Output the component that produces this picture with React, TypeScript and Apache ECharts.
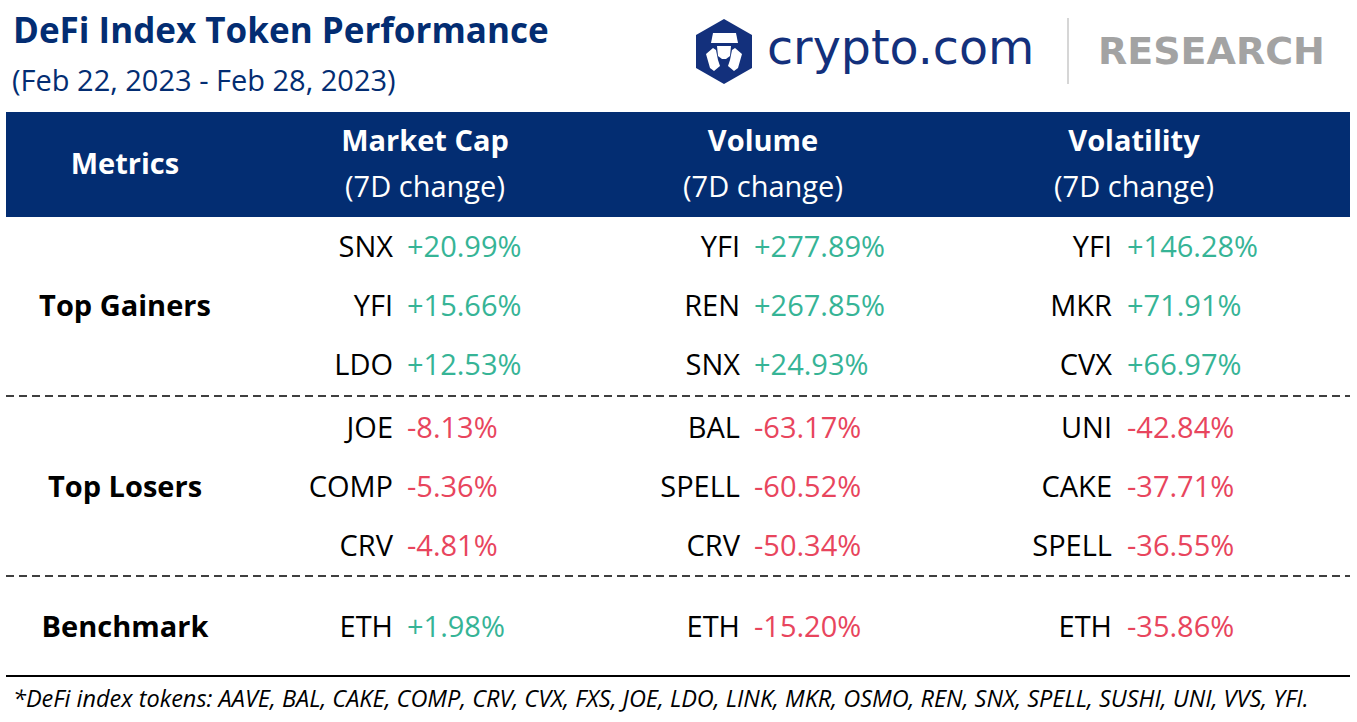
import React, { useEffect, useRef } from "react";
import * as echarts from "echarts";

const titleText = "DeFi Index Token Performance";
const subtitleText = "(Feb 22, 2023 - Feb 28, 2023)";
const metrics = ["Market Cap", "Volume", "Volatility"];
const metricSub = "(7D change)";
const rowGroups = ["Top Gainers", "Top Losers", "Benchmark"];
const gainerTickers = [
  ["SNX", "YFI", "LDO"],
  ["YFI", "REN", "SNX"],
  ["YFI", "MKR", "CVX"],
];
const gainerValues = [
  [20.99, 15.66, 12.53],
  [277.89, 267.85, 24.93],
  [146.28, 71.91, 66.97],
];
const loserTickers = [
  ["JOE", "COMP", "CRV"],
  ["BAL", "SPELL", "CRV"],
  ["UNI", "CAKE", "SPELL"],
];
const loserValues = [
  [-8.13, -5.36, -4.81],
  [-63.17, -60.52, -50.34],
  [-42.84, -37.71, -36.55],
];
const benchmarkTickers = ["ETH", "ETH", "ETH"];
const benchmarkValues = [1.98, -15.2, -35.86];
const indexTokens = [
  "AAVE", "BAL", "CAKE", "COMP", "CRV", "CVX", "FXS", "JOE", "LDO", "LINK",
  "MKR", "OSMO", "REN", "SNX", "SPELL", "SUSHI", "UNI", "VVS", "YFI",
];

const NAVY = "#032d72";
const GREEN = "#36b496";
const RED = "#e8455d";
const FONT = "'Open Sans', 'Noto Sans', sans-serif";

const fmt = (v: number) => (v >= 0 ? "+" : "-") + Math.abs(v).toFixed(2) + "%";

export default function App() {
  const ref = useRef<HTMLDivElement>(null);
  useEffect(() => {
    if (!ref.current) return;
    const chart = echarts.init(ref.current, undefined, { renderer: "svg" });

    const tickerRight = [393, 740, 1112];
    const valueLeft = [407, 754, 1127];
    const headerCenter = [425, 763, 1134];
    const bodySize = 29;

    const els: any[] = [];
    const txt = (text: string, x: number, y: number, o: any = {}) => ({
      type: "text",
      silent: true,
      style: {
        text,
        x,
        y,
        fill: o.fill || "#000",
        font: `${o.style || "normal"} ${o.weight || "normal"} ${o.size || bodySize}px ${o.family || FONT}`,
        textAlign: o.align || "left",
        textVerticalAlign: "middle",
      },
    });

    // Title
    els.push(txt(titleText, 13, 29, { fill: NAVY, weight: "bold", size: 35 }));
    els.push(txt(subtitleText, 12, 79, { fill: NAVY, size: 29 }));

    // Logo hexagon
    els.push({
      type: "polygon",
      silent: true,
      shape: {
        points: [
          [724, 19], [752, 35], [752, 68], [724, 84], [696, 68], [696, 35],
        ],
      },
      style: { fill: "#13307c" },
    });
    els.push({
      type: "polygon",
      silent: true,
      shape: { points: [[713, 33], [736, 33], [738, 43], [711, 43]] },
      style: { fill: "#ffffff" },
    });
    els.push({
      type: "polygon",
      silent: true,
      shape: { points: [[717, 46], [731, 46], [730, 56], [726, 59], [722, 59], [718, 56]] },
      style: { fill: "#ffffff" },
    });
    els.push({
      type: "polygon",
      silent: true,
      shape: { points: [[706, 54], [713, 48], [716, 50], [718, 60], [720, 66], [714, 71], [710, 68]] },
      style: { fill: "#ffffff" },
    });
    els.push({
      type: "polygon",
      silent: true,
      shape: { points: [[742, 54], [735, 48], [732, 50], [730, 60], [728, 66], [734, 71], [738, 68]] },
      style: { fill: "#ffffff" },
    });
    els.push(txt("crypto.com", 767, 47, { fill: "#13307c", size: 47.5, family: "'DejaVu Sans', sans-serif" }));
    els.push({
      type: "line",
      silent: true,
      shape: { x1: 1068, y1: 18, x2: 1068, y2: 84 },
      style: { stroke: "#c8c8c8", lineWidth: 1.5 },
    });
    els.push(txt("RESEARCH", 1098, 51, { fill: "#a3a3a3", size: 38, weight: "bold", family: "'DejaVu Sans', sans-serif" }));

    // Header band
    els.push({
      type: "rect",
      silent: true,
      shape: { x: 6, y: 112, width: 1344, height: 105 },
      style: { fill: NAVY },
    });
    els.push(txt("Metrics", 125, 162, { fill: "#fff", weight: "bold", size: 29, align: "center" }));
    metrics.forEach((m, i) => {
      els.push(txt(m, headerCenter[i], 139, { fill: "#fff", weight: "bold", size: 29, align: "center" }));
      els.push(txt(metricSub, headerCenter[i], 185, { fill: "#fff", size: 29, align: "center" }));
    });

    // Body rows
    const gainY = [245, 304, 363];
    const loseY = [426, 485, 544];
    const benchY = 625;
    els.push(txt(rowGroups[0], 125, 304, { weight: "bold", size: 29, align: "center" }));
    els.push(txt(rowGroups[1], 125, 485, { weight: "bold", size: 29, align: "center" }));
    els.push(txt(rowGroups[2], 125, benchY, { weight: "bold", size: 29, align: "center" }));

    for (let c = 0; c < 3; c++) {
      for (let r = 0; r < 3; r++) {
        els.push(txt(gainerTickers[c][r], tickerRight[c], gainY[r], { align: "right" }));
        const gv = gainerValues[c][r];
        els.push(txt(fmt(gv), valueLeft[c], gainY[r], { fill: gv >= 0 ? GREEN : RED }));
        els.push(txt(loserTickers[c][r], tickerRight[c], loseY[r], { align: "right" }));
        const lv = loserValues[c][r];
        els.push(txt(fmt(lv), valueLeft[c], loseY[r], { fill: lv >= 0 ? GREEN : RED }));
      }
      els.push(txt(benchmarkTickers[c], tickerRight[c], benchY, { align: "right" }));
      const bv = benchmarkValues[c];
      els.push(txt(fmt(bv), valueLeft[c], benchY, { fill: bv >= 0 ? GREEN : RED }));
    }

    // Separators
    [396, 576].forEach((y) => {
      els.push({
        type: "line",
        silent: true,
        shape: { x1: 6, y1: y, x2: 1350, y2: y },
        style: { stroke: "#000", lineWidth: 1.5, lineDash: [8, 5] },
      });
    });
    els.push({
      type: "line",
      silent: true,
      shape: { x1: 6, y1: 676, x2: 1350, y2: 676 },
      style: { stroke: "#000", lineWidth: 2 },
    });

    els.push(
      txt("*DeFi index tokens: " + indexTokens.join(", ") + ".", 13, 698, {
        style: "italic",
        size: 23.5,
      })
    );

    chart.setOption({
      animation: false,
      backgroundColor: "#ffffff",
      graphic: { elements: els },
    });
    return () => chart.dispose();
  }, []);

  return (
    <div
      ref={ref}
      style={{ position: "fixed", left: 0, top: 0, width: 1357, height: 722, background: "#fff" }}
    />
  );
}
